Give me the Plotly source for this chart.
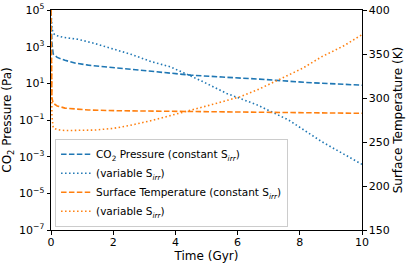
import plotly.graph_objects as go

# CO2 pressure, constant S_irr
t_pc = [0, 0.01, 0.03, 0.07, 0.2, 0.45, 0.8, 1.2, 1.7, 2.2, 3.3, 4.5, 5.5, 6.7, 8.2, 10]
p_const = [1e5, 1e4, 1.5e3, 4e2, 2.6e2, 1.8e2, 1.25e2, 98, 80, 65, 42, 28, 22, 17, 11.2, 7.9]

# CO2 pressure, variable S_irr
t_pv = [0, 0.01, 0.03, 0.07, 0.13, 0.4, 0.88, 1.4, 1.95, 2.6, 3.24, 3.83, 4.26, 4.9, 5.65, 6.6, 7.64, 8.71, 10]
p_var = [1e5, 2.5e4, 1e4, 5.6e3, 4.2e3, 3.2e3, 2.5e3, 1.5e3, 800, 370, 150, 80, 38, 12, 2.8, 0.7, 0.1, 6.5e-3, 3.8e-4]

# Surface temperature, constant S_irr
t_tc = [0, 0.01, 0.03, 0.07, 0.2, 0.45, 1.2, 2.2, 3.3, 5, 6.7, 8.5, 10]
T_const = [400, 330, 300, 294, 291, 288.5, 286.4, 285.5, 285, 284.2, 283.7, 283, 282.6]

# Surface temperature, variable S_irr
t_tv = [0, 0.01, 0.03, 0.07, 0.2, 0.45, 0.9, 1.42, 2.0, 2.49, 3.25, 4.26, 5.33, 6.08, 6.62, 7.42, 8.1, 8.71, 9.4, 10]
T_var = [400, 320, 280, 266, 264, 263, 263, 263.6, 265.5, 268.5, 274.5, 283.7, 294, 301.5, 309, 322.4, 334, 347, 359, 372]

x_ticks = [0, 2, 4, 6, 8, 10]
p_exps = [-7, -5, -3, -1, 1, 3, 5]
T_ticks = [150, 200, 250, 300, 350, 400]

BLUE = "#1f77b4"
ORANGE = "#ff7f0e"
DASH = "5.5px,2.4px"
DOT = "1.5px,2.5px"
S = "S<sub><i>irr</i></sub>"

fig = go.Figure()
fig.add_trace(go.Scatter(x=t_pc, y=p_const, mode="lines", name=f"CO<sub>2</sub> Pressure (constant {S})",
                         line=dict(color=BLUE, width=1.6, dash=DASH)))
fig.add_trace(go.Scatter(x=t_pv, y=p_var, mode="lines", name=f"(variable {S})",
                         line=dict(color=BLUE, width=1.6, dash=DOT)))
fig.add_trace(go.Scatter(x=t_tc, y=T_const, mode="lines", name=f"Surface Temperature (constant {S})",
                         line=dict(color=ORANGE, width=1.6, dash=DASH), yaxis="y2"))
fig.add_trace(go.Scatter(x=t_tv, y=T_var, mode="lines", name=f"(variable {S})",
                         line=dict(color=ORANGE, width=1.6, dash=DOT), yaxis="y2"))

def fmt(e):
    s = str(e).replace("-", "\u2212")
    return f"10<sup>{s}</sup>"

axis_common = dict(showgrid=False, zeroline=False, showline=True, linecolor="black", linewidth=1,
                   ticks="outside", ticklen=3.5, tickcolor="black", tickwidth=1, automargin=False,
                   tickfont=dict(size=11, color="black"))

fig.update_layout(
    width=407, height=266,
    margin=dict(l=51, r=45, t=10, b=36),
    paper_bgcolor="white", plot_bgcolor="white",
    font=dict(family="DejaVu Sans", color="black", size=11),
    xaxis=dict(range=[0, 10], tickvals=x_ticks, mirror=True, ticklabelstandoff=-2,
               title=dict(text="Time (Gyr)", font=dict(size=12), standoff=0), **axis_common),
    yaxis=dict(type="log", range=[-7, 5], tickvals=[10.0 ** e for e in p_exps],
               ticktext=[fmt(e) for e in p_exps],
               title=dict(text="CO<sub>2</sub> Pressure (Pa)", font=dict(size=12), standoff=6),
               **axis_common),
    yaxis2=dict(overlaying="y", side="right", range=[150, 400], tickvals=T_ticks,
                title=dict(text="Surface Temperature (K)", font=dict(size=12), standoff=4),
                **axis_common),
    legend=dict(x=0.013, y=0.015, xanchor="left", yanchor="bottom",
                bgcolor="white", bordercolor="#cccccc", borderwidth=1,
                font=dict(size=10.5), itemwidth=30, tracegroupgap=0),
    showlegend=True,
)

fig.write_html("out.html", post_script="document.body.style.margin='0px';",
               config={"displayModeBar": False})
